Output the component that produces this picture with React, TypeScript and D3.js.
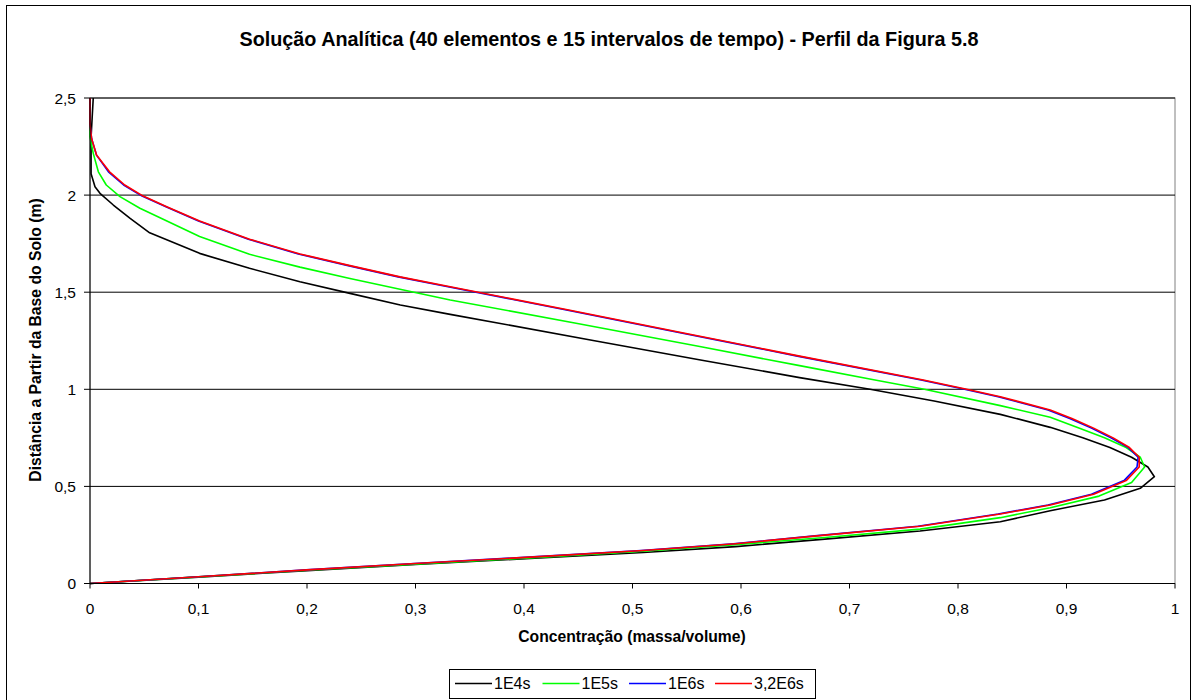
import React from "react";
import * as d3 from "d3";

// Concentration profiles along the soil column (distance from base in m)
const xTicks = [0, 0.1, 0.2, 0.3, 0.4, 0.5, 0.6, 0.7, 0.8, 0.9, 1];
const yTicks = [0, 0.5, 1, 1.5, 2, 2.5];

const dist1E4 = [0, 0.033, 0.066, 0.098, 0.13, 0.16, 0.19, 0.23, 0.27, 0.318, 0.375, 0.43, 0.49, 0.55, 0.6, 0.65, 0.7, 0.75, 0.804, 0.871, 0.94, 1.0, 1.06, 1.15, 1.25, 1.386, 1.434, 1.494, 1.554, 1.623, 1.7, 1.806, 1.88, 1.949, 2.009, 2.043, 2.11, 2.2, 2.3, 2.4, 2.5];
const conc1E4 = [0, 0.1, 0.2, 0.3, 0.41, 0.51, 0.595, 0.68, 0.765, 0.839, 0.885, 0.935, 0.968, 0.981, 0.975, 0.96, 0.94, 0.915, 0.885, 0.839, 0.778, 0.719, 0.654, 0.564, 0.465, 0.332, 0.286, 0.2396, 0.1935, 0.147, 0.101, 0.055, 0.037, 0.0215, 0.0092, 0.0046, 0.001, 0.001, 0.001, 0.002, 0.003];

const dist1E5 = [0, 0.034, 0.068, 0.1, 0.133, 0.166, 0.2, 0.238, 0.28, 0.339, 0.39, 0.45, 0.52, 0.6, 0.65, 0.7, 0.75, 0.8, 0.856, 0.916, 1.0, 1.048, 1.122, 1.22, 1.34, 1.46, 1.515, 1.571, 1.629, 1.695, 1.787, 1.88, 1.932, 1.992, 2.052, 2.12, 2.215, 2.3, 2.4, 2.5];
const conc1E5 = [0, 0.1, 0.2, 0.3, 0.41, 0.51, 0.595, 0.68, 0.765, 0.839, 0.885, 0.93, 0.96, 0.972, 0.968, 0.955, 0.935, 0.912, 0.885, 0.839, 0.769, 0.7235, 0.654, 0.562, 0.448, 0.332, 0.2857, 0.2396, 0.1935, 0.147, 0.101, 0.066, 0.046, 0.0276, 0.015, 0.0077, 0.003, 0, 0, 0];

const dist1E6 = [0, 0.035, 0.07, 0.103, 0.137, 0.17, 0.205, 0.245, 0.295, 0.358, 0.404, 0.46, 0.53, 0.6, 0.65, 0.7, 0.75, 0.8, 0.85, 0.893, 0.962, 1.0, 1.048, 1.171, 1.29, 1.41, 1.528, 1.579, 1.637, 1.697, 1.773, 1.867, 1.94, 1.995, 2.052, 2.12, 2.206, 2.29, 2.365, 2.45, 2.5];
const conc1E6 = [0, 0.1, 0.199, 0.299, 0.408, 0.508, 0.593, 0.668, 0.763, 0.837, 0.883, 0.923, 0.953, 0.965, 0.966, 0.957, 0.941, 0.923, 0.903, 0.883, 0.837, 0.806, 0.766, 0.652, 0.545, 0.438, 0.33, 0.284, 0.238, 0.192, 0.146, 0.1, 0.07, 0.048, 0.031, 0.017, 0.006, 0.0015, 0, 0, 0];

const dist32E6 = [0, 0.035, 0.07, 0.103, 0.137, 0.17, 0.205, 0.245, 0.295, 0.358, 0.404, 0.46, 0.53, 0.6, 0.65, 0.7, 0.75, 0.8, 0.85, 0.893, 0.962, 1.0, 1.048, 1.171, 1.29, 1.41, 1.528, 1.579, 1.637, 1.697, 1.773, 1.867, 1.94, 1.995, 2.052, 2.12, 2.206, 2.29, 2.365, 2.45, 2.5];
const conc32E6 = [0, 0.1, 0.2, 0.3, 0.41, 0.51, 0.595, 0.67, 0.765, 0.839, 0.885, 0.925, 0.955, 0.967, 0.967, 0.958, 0.943, 0.925, 0.905, 0.885, 0.839, 0.808, 0.768, 0.654, 0.547, 0.44, 0.332, 0.2857, 0.2396, 0.1935, 0.147, 0.101, 0.0707, 0.049, 0.032, 0.018, 0.006, 0.0015, 0, 0, 0];

const seriesNames = ["1E4s", "1E5s", "1E6s", "3,2E6s"];
const seriesColors = ["#000000", "#00ff00", "#0000ff", "#ff0000"];
const seriesDist = [dist1E4, dist1E5, dist1E6, dist32E6];
const seriesConc = [conc1E4, conc1E5, conc1E6, conc32E6];

const W = 1198;
const H = 700;
const FONT = "'Liberation Sans', Arial, sans-serif";

export default function App() {
  const x = d3.scaleLinear().domain([0, 1]).range([90, 1175]);
  const y = d3.scaleLinear().domain([0, 2.5]).range([583.5, 98]);

  const line = d3
    .line<[number, number]>()
    .x((d) => x(d[0]))
    .y((d) => y(d[1]))
    .curve(d3.curveLinear);

  const fmt = (v: number) => String(v).replace(".", ",");

  const legendX = [455, 542.5, 629, 715];

  return (
    <svg
      width={W}
      height={H}
      style={{ position: "absolute", left: 0, top: 0, background: "#fff" }}
      fontFamily={FONT}
    >
      <rect x={0} y={0} width={W} height={H} fill="#fff" />
      {/* chart frame */}
      <rect x={6.5} y={5.5} width={1184} height={700} fill="none" stroke="#000" strokeWidth={1} />

      <text x={609} y={46} textAnchor="middle" fontSize={19.8} fontWeight="bold" fill="#000">
        Solução Analítica (40 elementos e 15 intervalos de tempo) - Perfil da Figura 5.8
      </text>

      {/* plot area border */}
      <rect x={x(0)} y={y(2.5)} width={x(1) - x(0)} height={y(0) - y(2.5)} fill="none" stroke="#808080" strokeWidth={1} />

      {/* horizontal gridlines */}
      {yTicks.slice(1).map((t) => (
        <line key={`g${t}`} x1={x(0)} x2={x(1)} y1={y(t)} y2={y(t)} stroke="#000" strokeWidth={1} />
      ))}

      {/* series */}
      {seriesNames.map((name, i) => {
        const pts: [number, number][] = seriesConc[i].map((c, k) => [c, seriesDist[i][k]]);
        return (
          <path key={name} d={line(pts) ?? ""} fill="none" stroke={seriesColors[i]} strokeWidth={1.6} strokeLinejoin="round" />
        );
      })}

      {/* axes */}
      <line x1={x(0)} x2={x(0)} y1={y(0)} y2={y(2.5)} stroke="#000" strokeWidth={1} />
      <line x1={x(0)} x2={x(1)} y1={y(0)} y2={y(0)} stroke="#000" strokeWidth={1} />
      {xTicks.map((t) => (
        <g key={`xt${t}`}>
          <line x1={x(t)} x2={x(t)} y1={y(0)} y2={y(0) + 5} stroke="#000" strokeWidth={1} />
          <text x={x(t)} y={613.5} textAnchor="middle" fontSize={15.5} fill="#000">
            {fmt(t)}
          </text>
        </g>
      ))}
      {yTicks.map((t) => (
        <g key={`yt${t}`}>
          <line x1={x(0) - 6} x2={x(0)} y1={y(t)} y2={y(t)} stroke="#000" strokeWidth={1} />
          <text x={76} y={y(t) + 5.5} textAnchor="end" fontSize={15.5} fill="#000">
            {fmt(t)}
          </text>
        </g>
      ))}

      <text x={632} y={641.5} textAnchor="middle" fontSize={15.7} fontWeight="bold" fill="#000">
        Concentração (massa/volume)
      </text>
      <text
        transform={`translate(41, 340) rotate(-90)`}
        textAnchor="middle"
        fontSize={15.7}
        fontWeight="bold"
        fill="#000"
      >
        Distância a Partir da Base do Solo (m)
      </text>

      {/* legend */}
      <rect x={449.5} y={669.5} width={366} height={29} fill="#fff" stroke="#000" strokeWidth={1} />
      {seriesNames.map((name, i) => (
        <g key={`lg${name}`}>
          <line x1={legendX[i]} x2={legendX[i] + 37} y1={683.5} y2={683.5} stroke={seriesColors[i]} strokeWidth={1.6} />
          <text x={legendX[i] + 39} y={689} fontSize={16} fill="#000">
            {name}
          </text>
        </g>
      ))}
    </svg>
  );
}
